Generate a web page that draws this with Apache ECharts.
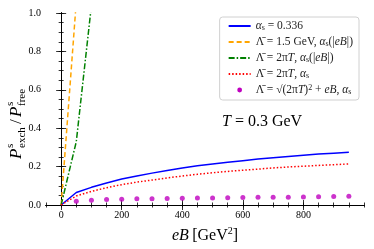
<!DOCTYPE html>
<html><head><meta charset="utf-8">
<script src="https://cdn.jsdelivr.net/npm/echarts@6/dist/echarts.min.js"></script>
<style>html,body{margin:0;padding:0;background:#fff}#c{width:374px;height:249px}</style>
</head><body><div id="c"></div>
<script>
// ---- data ----
const eB = [0,50,100,150,200,250,300,350,400,450,500,550,600,650,700,750,800,850,900,950];
const alphaConst = [0,0.065,0.092,0.115,0.135,0.151,0.166,0.180,0.193,0.204,0.214,0.223,0.231,0.239,0.246,0.253,0.259,0.265,0.270,0.275];
const lam15_eB = [0,50];
const lam15_vals = [0,1.06];
const lam2piT_eB = [0,50,100];
const lam2piT_run = [0,0.33,1.04];
const lam2piT_const = [0,0.047,0.071,0.090,0.106,0.119,0.130,0.141,0.151,0.160,0.168,0.175,0.181,0.187,0.193,0.198,0.202,0.206,0.210,0.214];
const dot_eB = [50,100,150,200,250,300,350,400,450,500,550,600,650,700,750,800,850,900,950];
const dot_vals = [0.020,0.025,0.028,0.030,0.032,0.033,0.034,0.035,0.036,0.037,0.038,0.039,0.040,0.041,0.041,0.042,0.043,0.044,0.045];
const xMajorTicks = [0,200,400,600,800];
const yTicks = [0,0.2,0.4,0.6,0.8,1.0];
const legendLabels = {
  a: '{g|α}{sub|s}{t| = 0.336}',
  b: '{t|Λ̄ = 1.5 GeV, }{g|α}{sub|s}{t|(|}{i|eB}{t||)}',
  c: '{t|Λ̄ = 2π}{i|T}{t|, }{g|α}{sub|s}{t|(|}{i|eB}{t||)}',
  d: '{t|Λ̄ = 2π}{i|T}{t|, }{g|α}{sub|s}',
  e: '{t|Λ̄ = √(2π}{i|T}{t|)}{sup|2}{t| + }{i|eB}{t|, }{g|α}{sub|s}'
};
const zip = (xs, ys) => xs.map((x, i) => [x, ys[i]]);

const F = '"Liberation Serif","DejaVu Serif",serif';
const chart = echarts.init(document.getElementById('c'), null, {renderer: 'canvas'});
const grid = {left: 46, right: 10, top: 13, bottom: 44};
const axLine = {show: true, lineStyle: {color: '#000', width: 1}};
const tickStyle = {color: '#000', width: 0.8};
const dotIcon = 'image://data:image/svg+xml;utf8,' + encodeURIComponent('<svg xmlns="http://www.w3.org/2000/svg" width="22" height="10" viewBox="0 0 22 10"><circle cx="11" cy="5" r="2.4" fill="#bf00bf"/></svg>');

const baseX = {type: 'value', min: -50, max: 1000, splitLine: {show: false}, axisLine: axLine};
const baseY = {type: 'value', min: 0, max: 1, splitLine: {show: false}, axisLine: axLine};
const option = {
  animation: false,
  grid: grid,
  xAxis: [
    Object.assign({}, baseX, {position: 'bottom', interval: 50,
      axisTick: {inside: true, length: 2.5, lineStyle: tickStyle},
      axisLabel: {show: false},
      name: '{i|eB} {t|[GeV}{sup|2}{t|]}', nameLocation: 'middle', nameGap: 21,
      nameTextStyle: {rich: {
        i: {fontFamily: F, fontStyle: 'italic', fontSize: 16, color: '#000', verticalAlign: 'bottom', lineHeight: 18},
        t: {fontFamily: F, fontSize: 16, color: '#000', verticalAlign: 'bottom', lineHeight: 18},
        sup: {fontFamily: F, fontSize: 10, color: '#000', verticalAlign: 'top', lineHeight: 18}
      }}}),
    Object.assign({}, baseX, {position: 'bottom',
      axisTick: {inside: true, length: 5, customValues: xMajorTicks, lineStyle: tickStyle},
      axisLabel: {customValues: xMajorTicks, fontFamily: F, fontSize: 10, color: '#000', margin: 5}}),
    Object.assign({}, baseX, {position: 'top', interval: 50,
      axisTick: {inside: true, length: 2.5, lineStyle: tickStyle}, axisLabel: {show: false}}),
    Object.assign({}, baseX, {position: 'top',
      axisTick: {inside: true, length: 5, customValues: xMajorTicks, lineStyle: tickStyle}, axisLabel: {show: false}})
  ],
  yAxis: [
    Object.assign({}, baseY, {position: 'left', interval: 0.2,
      axisTick: {inside: true, length: 5, lineStyle: tickStyle},
      axisLabel: {customValues: yTicks, fontFamily: F, fontSize: 10, color: '#000', margin: 5, formatter: v => v.toFixed(1)}}),
    Object.assign({}, baseY, {position: 'left', interval: 0.05,
      axisTick: {inside: true, length: 2.5, lineStyle: tickStyle}, axisLabel: {show: false}}),
    Object.assign({}, baseY, {position: 'right', interval: 0.2,
      axisTick: {inside: true, length: 5, lineStyle: tickStyle}, axisLabel: {show: false}}),
    Object.assign({}, baseY, {position: 'right', interval: 0.05,
      axisTick: {inside: true, length: 2.5, lineStyle: tickStyle}, axisLabel: {show: false}})
  ],
  legend: {
    right: 15, top: 17, orient: 'vertical', itemWidth: 22, itemHeight: 10, itemGap: 4,
    padding: [3, 6, 4, 8], borderColor: '#d0d0d0', borderWidth: 1, borderRadius: 3, backgroundColor: '#fff',
    itemStyle: {opacity: 0},
    data: [
      {name: 'a'}, {name: 'b'}, {name: 'c'}, {name: 'd'},
      {name: 'e', icon: dotIcon, itemStyle: {opacity: 1}}
    ],
    formatter: n => legendLabels[n],
    textStyle: {rich: {
      t: {fontFamily: F, fontSize: 11.5, color: '#222', verticalAlign: 'middle', lineHeight: 12},
      i: {fontFamily: F, fontSize: 11.5, fontStyle: 'italic', color: '#222', verticalAlign: 'middle', lineHeight: 12},
      g: {fontFamily: F, fontSize: 11.5, fontStyle: 'italic', color: '#222', verticalAlign: 'middle', lineHeight: 12},
      sub: {fontFamily: F, fontSize: 8, color: '#222', verticalAlign: 'bottom', lineHeight: 12},
      sup: {fontFamily: F, fontSize: 8, color: '#222', verticalAlign: 'top', lineHeight: 12}
    }}
  },
  graphic: [
    {type: 'text', left: 222, top: 114, style: {text: '{i|T}{t| = 0.3 GeV}', rich: {
      i: {fontFamily: F, fontStyle: 'italic', fontSize: 16, fill: '#000'},
      t: {fontFamily: F, fontSize: 16, fill: '#000'}}}},
    {type: 'group', x: 17, y: 109, rotation: Math.PI / 2, children: [
      {type: 'text', x: -50, y: 0, style: {text: 'P', fontFamily: F, fontStyle: 'italic', fontSize: 17, fill: '#000', verticalAlign: 'middle'}},
      {type: 'text', x: -39, y: -7, style: {text: 's', fontFamily: F, fontSize: 11, fill: '#000', verticalAlign: 'middle'}},
      {type: 'text', x: -39, y: 5, style: {text: 'exch', fontFamily: F, fontSize: 11, fill: '#000', verticalAlign: 'middle'}},
      {type: 'text', x: -15, y: 0, style: {text: '/', fontFamily: F, fontSize: 17, fill: '#000', verticalAlign: 'middle'}},
      {type: 'text', x: -8, y: 0, style: {text: 'P', fontFamily: F, fontStyle: 'italic', fontSize: 17, fill: '#000', verticalAlign: 'middle'}},
      {type: 'text', x: 3, y: -7, style: {text: 's', fontFamily: F, fontSize: 11, fill: '#000', verticalAlign: 'middle'}},
      {type: 'text', x: 3, y: 5, style: {text: 'free', fontFamily: F, fontSize: 11, fill: '#000', verticalAlign: 'middle'}}
    ]}
  ],
  series: [
    {name: 'a', type: 'line', data: zip(eB, alphaConst), symbol: 'none',
      lineStyle: {color: '#0000ff', width: 1.5}, itemStyle: {color: '#0000ff'}},
    {name: 'b', type: 'line', data: zip(lam15_eB, lam15_vals), symbol: 'none',
      lineStyle: {color: '#ffa500', width: 1.5, type: [5, 3]}, itemStyle: {color: '#ffa500'}},
    {name: 'c', type: 'line', data: zip(lam2piT_eB, lam2piT_run), symbol: 'none',
      lineStyle: {color: '#008000', width: 1.5, type: [6, 2, 1.5, 2]}, itemStyle: {color: '#008000'}},
    {name: 'd', type: 'line', data: zip(eB, lam2piT_const), symbol: 'none',
      lineStyle: {color: '#ff0000', width: 1.5, type: [1.5, 2]}, itemStyle: {color: '#ff0000'}},
    {name: 'e', type: 'scatter', data: zip(dot_eB, dot_vals), symbol: 'circle', symbolSize: 5,
      itemStyle: {color: '#bf00bf'}}
  ]
};
chart.setOption(option);
</script></body></html>
